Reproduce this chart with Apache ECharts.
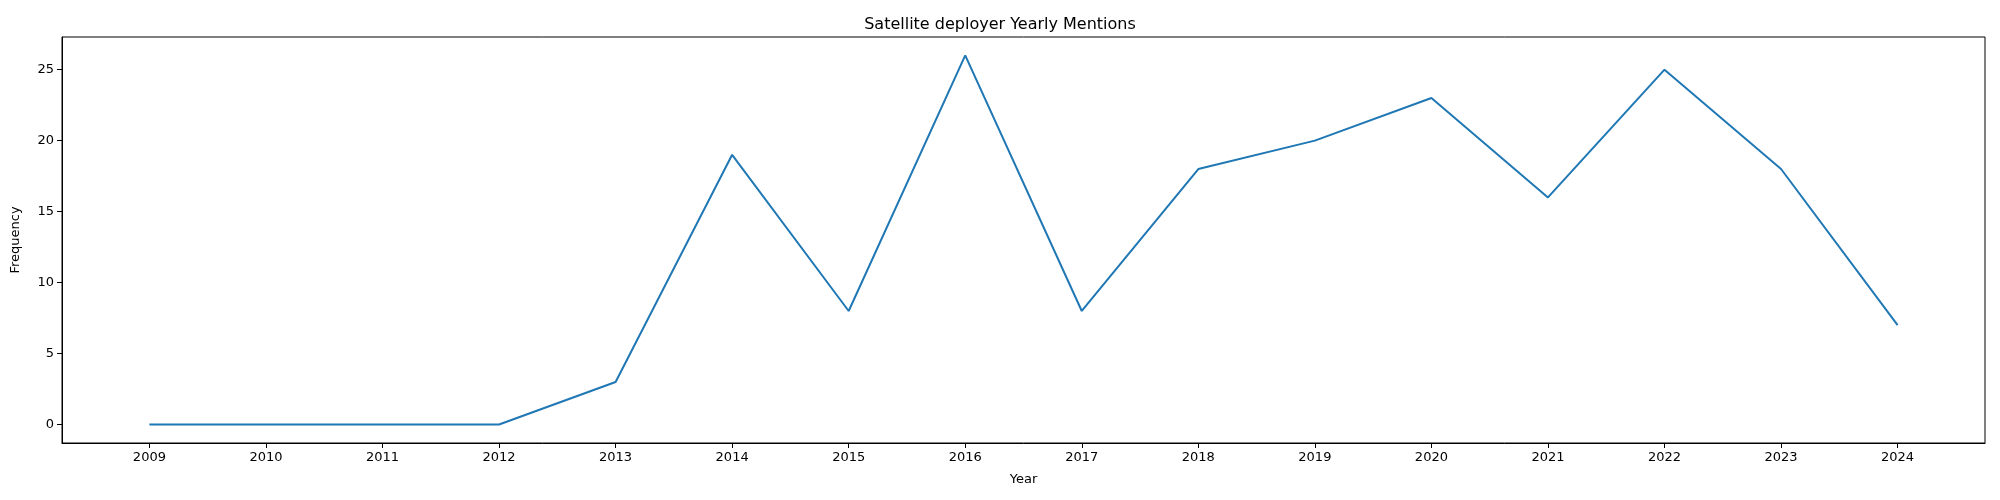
<!DOCTYPE html>
<html>
<head>
<meta charset="utf-8">
<title>Satellite deployer Yearly Mentions</title>
<script src="https://cdn.jsdelivr.net/npm/echarts@6/dist/echarts.min.js"></script>
<style>html,body{margin:0;padding:0;background:#fff}#chart{width:2000px;height:500px}</style>
</head>
<body>
<div id="chart"></div>
<script>
// yearly mentions
var years = [2009, 2010, 2011, 2012, 2013, 2014, 2015, 2016, 2017, 2018, 2019, 2020, 2021, 2022, 2023, 2024];
var mentions = [0, 0, 0, 0, 3, 19, 8, 26, 8, 18, 20, 23, 16, 25, 18, 7];
var yTicks = [0, 5, 10, 15, 20, 25];

var chart = echarts.init(document.getElementById("chart"));
var font = "DejaVu Sans";
chart.setOption({
  animation: false,
  textStyle: { fontFamily: font },
  title: {
    text: "Satellite deployer Yearly Mentions",
    left: "center", top: 12,
    textStyle: { fontSize: 16, fontWeight: "normal", color: "#000", fontFamily: font }
  },
  grid: { left: 62, right: 15, top: 37, bottom: 57, show: true, borderColor: "#000", borderWidth: 1 },
  xAxis: {
    type: "value", min: 2008.25, max: 2024.75,
    name: "Year", nameLocation: "middle", nameGap: 30,
    nameTextStyle: { fontSize: 13, color: "#000" },
    splitLine: { show: false },
    axisLine: { onZero: false, lineStyle: { color: "#000" } },
    axisTick: { customValues: years, lineStyle: { color: "#000" }, length: 5 },
    axisLabel: { customValues: years, color: "#000", fontSize: 13, formatter: function (v) { return String(v); } }
  },
  yAxis: {
    type: "value", min: -1.3, max: 27.3,
    name: "Frequency", nameLocation: "middle", nameGap: 40,
    nameTextStyle: { fontSize: 13, color: "#000" },
    splitLine: { show: false },
    axisLine: { show: true, onZero: false, lineStyle: { color: "#000" } },
    axisTick: { show: true, customValues: yTicks, lineStyle: { color: "#000" }, length: 5 },
    axisLabel: { customValues: yTicks, color: "#000", fontSize: 13 }
  },
  series: [{
    type: "line",
    data: years.map(function (y, i) { return [y, mentions[i]]; }),
    showSymbol: false,
    lineStyle: { color: "#1f77b4", width: 2 },
    itemStyle: { color: "#1f77b4" }
  }]
});
</script>
</body>
</html>
